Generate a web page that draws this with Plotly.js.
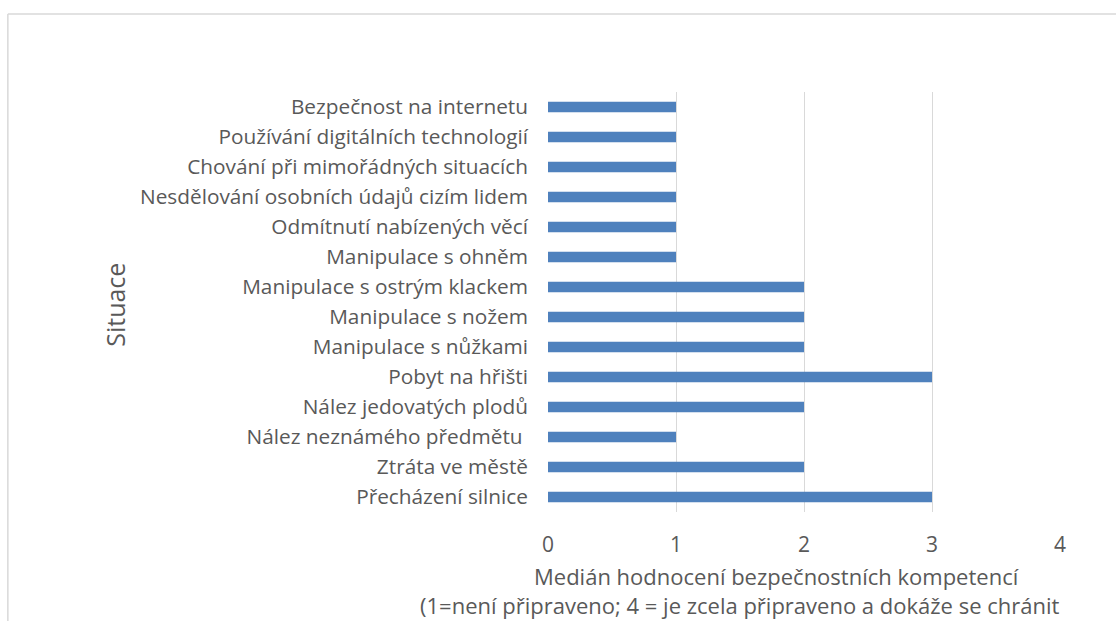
<!DOCTYPE html>
<html>
<head>
<meta charset="utf-8">
<script src="https://cdn.plot.ly/plotly-3.0.1.min.js"></script>
<style>
  html, body { margin: 0; padding: 0; background: #fff; }
  #graf { width: 1116px; height: 621px; }
</style>
</head>
<body>
<div id="graf"></div>
<script>
// situace odspodu nahoru (jak je v grafu)
let situace = [
    "Přecházení silnice",
    "Ztráta ve městě",
    "Nález neznámého předmětu ",
    "Nález jedovatých plodů",
    "Pobyt na hřišti",
    "Manipulace s nůžkami",
    "Manipulace s nožem",
    "Manipulace s ostrým klackem",
    "Manipulace s ohněm",
    "Odmítnutí nabízených věcí",
    "Nesdělování osobních údajů cizím lidem",
    "Chování při mimořádných situacích",
    "Používání digitálních technologií",
    "Bezpečnost na internetu"
];
let medianHodnoceni = [3, 2, 1, 2, 3, 2, 2, 2, 1, 1, 1, 1, 1, 1];
let osaX = [0, 1, 2, 3, 4];

let seda = '#595959';
let pismo = 'Open Sans, sans-serif';

let trace = {
    type: 'bar',
    orientation: 'h',
    x: medianHodnoceni,
    y: situace,
    marker: { color: '#4f81bd' },
    hoverinfo: 'x+y'
};

let layout = {
    width: 1116,
    height: 621,
    margin: { l: 548, r: 56, t: 92, b: 109 },
    paper_bgcolor: '#fff',
    plot_bgcolor: '#fff',
    showlegend: false,
    bargap: 0.65,
    font: { family: pismo, color: seda, size: 16 },
    xaxis: {
        range: [0, 4],
        tickvals: osaX,
        showgrid: true,
        gridcolor: '#d9d9d9',
        gridwidth: 1,
        zeroline: false,
        showline: false,
        ticks: '',
        ticklabelstandoff: 18,
        tickfont: { size: 21, color: seda },
        fixedrange: true
    },
    yaxis: {
        type: 'category',
        showgrid: false,
        zeroline: false,
        showline: false,
        ticks: '',
        ticklabelstandoff: 19,
        tickfont: { size: 20.8, color: seda },
        fixedrange: true
    },
    annotations: [
        {
            text: 'Medián hodnocení bezpečnostních kompetencí',
            xref: 'paper', yref: 'paper',
            x: 0.447, y: -0.1524, xanchor: 'center', yanchor: 'middle',
            showarrow: false,
            font: { size: 22, color: seda }
        },
        {
            // konec textu je v originálu oříznutý okrajem obrázku
            text: '(1=není připraveno; 4 = je zcela připraveno a dokáže se chránit',
            xref: 'paper', yref: 'paper',
            x: -0.254, y: -0.2214, xanchor: 'left', yanchor: 'middle',
            showarrow: false,
            font: { size: 22, color: seda }
        },
        {
            text: 'Situace',
            xref: 'paper', yref: 'paper',
            x: -0.846, y: 0.493, xanchor: 'center', yanchor: 'middle',
            textangle: -90,
            showarrow: false,
            font: { size: 25, color: seda }
        }
    ],
    shapes: [
        // rámeček grafu (horní a levá hrana)
        {
            type: 'line', xref: 'paper', yref: 'paper',
            x0: -1.055, x1: 1.2, y0: 1.186, y1: 1.186,
            line: { color: '#d9d9d9', width: 1.5 }
        },
        {
            type: 'line', xref: 'paper', yref: 'paper',
            x0: -1.055, x1: -1.055, y0: 1.186, y1: -0.3,
            line: { color: '#d9d9d9', width: 1.5 }
        }
    ]
};

Plotly.newPlot('graf', [trace], layout, { displayModeBar: false, staticPlot: true });
</script>
</body>
</html>
